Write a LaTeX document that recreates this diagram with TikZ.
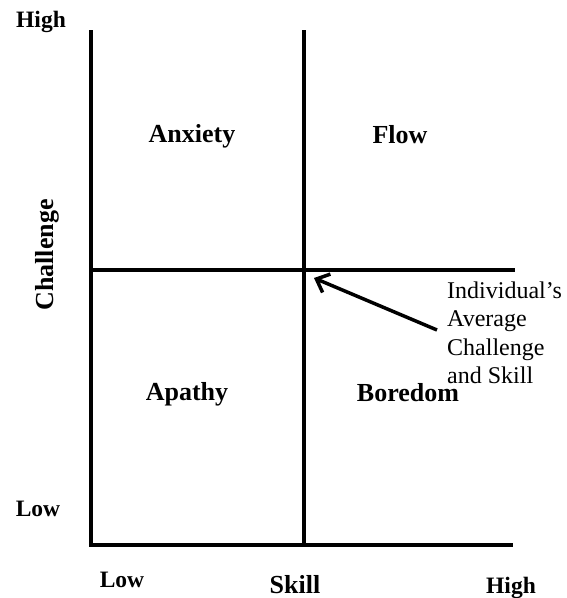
\documentclass[tikz,border=0pt]{standalone}
\usepackage{fontspec}
\setmainfont{Liberation Serif}
\usetikzlibrary{arrows.meta}
\begin{document}
\begin{tikzpicture}[x=1pt,y=-1pt,
  axis/.style={line width=3.5pt, line join=miter},
  quadlab/.style={font=\bfseries\fontsize{26}{30}\selectfont, inner sep=0pt, anchor=base},
  ticklab/.style={font=\bfseries\fontsize{23.5}{28}\selectfont, inner sep=0pt, anchor=base},
  pointer/.style={line width=3.5pt, -{Straight Barb[length=11pt,width=20pt]}},
  note/.style={font=\fontsize{24}{28.5}\selectfont, inner sep=0pt, anchor=north west, align=left}]
\useasboundingbox (0,0) rectangle (566,598);

% axis points
\coordinate (lt) at (91,30);
\coordinate (origin) at (91,545);
\coordinate (br) at (513,545);
\coordinate (mt) at (304,30);
\coordinate (mb) at (304,545);
\coordinate (hl) at (91,270);
\coordinate (hr) at (515,270);

\draw[axis] (lt) -- (origin) -- (br);
\draw[axis] (mt) -- (mb);
\draw[axis] (hl) -- (hr);

% quadrant labels
\node[quadlab] (anxiety) at (192,142) {Anxiety};
\node[quadlab] (flow) at (400,143) {Flow};
\node[quadlab] (apathy) at (187,400) {Apathy};
\node[quadlab] (boredom) at (408,401) {Boredom};

% axis labels
\node[quadlab, rotate=90] (challenge) at (53,255) {Challenge};
\node[quadlab] (skill) at (295,593) {Skill};
\node[ticklab] (yhigh) at (41,27) {High};
\node[ticklab] (ylow) at (38,516) {Low};
\node[ticklab] (xlow) at (122,587) {Low};
\node[ticklab] (xhigh) at (511,593) {High};

% note and pointer
\node[note] (avg) at (447,281.5) {Individual's\\Average\\Challenge\\and Skill};
\coordinate (ptrstart) at (437,330);
\coordinate (ptrtip) at (314,278);
\draw[pointer] (ptrstart) -- (ptrtip);
\end{tikzpicture}
\end{document}
